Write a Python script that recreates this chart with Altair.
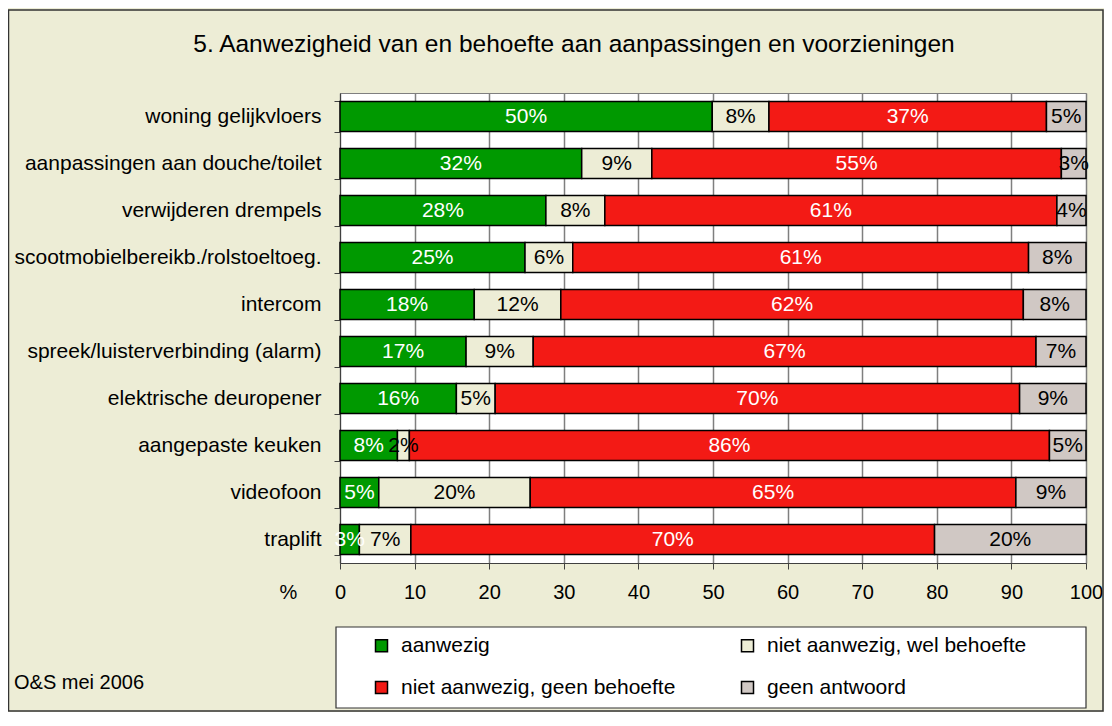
import altair as alt
import pandas as pd

# ---------------- data ----------------
items = [
    "woning gelijkvloers",
    "aanpassingen aan douche/toilet",
    "verwijderen drempels",
    "scootmobielbereikb./rolstoeltoeg.",
    "intercom",
    "spreek/luisterverbinding (alarm)",
    "elektrische deuropener",
    "aangepaste keuken",
    "videofoon",
    "traplift",
]
categories = [
    "aanwezig",
    "niet aanwezig, wel behoefte",
    "niet aanwezig, geen behoefte",
    "geen antwoord",
]
aanwezig = [49.9, 32.4, 27.6, 24.8, 18.0, 16.9, 15.6, 7.7, 5.2, 2.6]
wel_behoefte = [7.6, 9.4, 7.9, 6.4, 11.6, 9.0, 5.2, 1.6, 20.3, 6.9]
geen_behoefte = [37.2, 54.9, 60.6, 61.1, 62.0, 67.4, 70.3, 85.8, 65.1, 70.2]
geen_antwoord = [5.3, 3.3, 3.9, 7.7, 8.4, 6.7, 8.9, 4.9, 9.4, 20.3]
x_ticks = [0, 10, 20, 30, 40, 50, 60, 70, 80, 90, 100]
title_text = "5. Aanwezigheid van en behoefte aan aanpassingen en voorzieningen"
source_note = "O&S mei 2006"

colors = ["#009900", "#EDEDD6", "#F31A15", "#D0C8C4"]
FONT = "Liberation Sans"
BG = "#EDEDD6"

series = [aanwezig, wel_behoefte, geen_behoefte, geen_antwoord]
rows = []
for ci, (cat, vals) in enumerate(zip(categories, series)):
    for item, v in zip(items, vals):
        rows.append({"item": item, "category": cat, "order": ci, "value": v})
df = pd.DataFrame(rows)

base = (
    alt.Chart(df)
    .transform_stack(
        stack="value",
        groupby=["item"],
        sort=[alt.SortField("order", order="ascending")],
        as_=["x0", "x1"],
    )
    .transform_calculate(
        mid="(datum.x0 + datum.x1) / 2",
        label="round(datum.value) + '%'",
    )
)

y_enc = alt.Y(
    "item:N",
    sort=items,
    scale=alt.Scale(paddingInner=0.36, paddingOuter=0.18),
    axis=alt.Axis(
        title=None,
        labelFont=FONT,
        labelFontSize=21,
        labelColor="black",
        labelPadding=13,
        labelLimit=400,
        tickBand="extent",
        tickSize=6,
        tickColor="#404040",
        domainColor="#404040",
        grid=False,
    ),
)

bars = base.mark_bar(stroke="black", strokeWidth=1.5, opacity=1).encode(
    y=y_enc,
    x=alt.X(
        "x0:Q",
        scale=alt.Scale(domain=[0, 100], nice=False, zero=True),
        axis=alt.Axis(
            values=x_ticks,
            title="%",
            titleX=-52,
            titleY=29,
            titleAlign="center",
            titleBaseline="middle",
            titleFont=FONT,
            titleFontSize=20,
            titleFontWeight="normal",
            titleColor="black",
            labelFont=FONT,
            labelFontSize=20,
            labelColor="black",
            labelPadding=13,
            labelFlush=False,
            tickSize=6,
            tickColor="#404040",
            domainColor="#404040",
            grid=True,
            gridColor="#7F7F7F",
            gridWidth=1.5,
        ),
    ),
    x2="x1:Q",
    color=alt.Color(
        "category:N",
        sort=categories,
        scale=alt.Scale(domain=categories, range=colors),
        legend=alt.Legend(
            title=None,
            orient="none",
            legendX=31,
            legendY=542,
            direction="horizontal",
            columns=2,
            columnPadding=61,
            rowPadding=20,
            padding=0,
            symbolType="square",
            symbolSize=144,
            symbolStrokeColor="black",
            symbolStrokeWidth=1.5,
            symbolOpacity=1,
            labelFont=FONT,
            labelFontSize=21,
            labelColor="black",
            labelOffset=9,
            labelLimit=400,
        ),
    ),
)

texts = base.mark_text(font=FONT, fontSize=21, baseline="middle", align="center").encode(
    y=alt.Y("item:N", sort=items),
    x=alt.X("mid:Q"),
    text="label:N",
    color=alt.condition(
        "datum.category == 'aanwezig' || datum.category == 'niet aanwezig, geen behoefte'",
        alt.value("white"),
        alt.value("black"),
    ),
)

title = alt.Chart(pd.DataFrame({"t": [title_text]})).mark_text(
    font=FONT, fontSize=24.5, align="center", baseline="alphabetic", color="black"
).encode(x=alt.value(234), y=alt.value(-41), text="t:N")

note = alt.Chart(pd.DataFrame({"t": [source_note]})).mark_text(
    font=FONT, fontSize=20, align="left", baseline="middle", color="black"
).encode(x=alt.value(-326), y=alt.value(590), text="t:N")

# decorative frames: outer chart border and legend box
frame = alt.Chart(pd.DataFrame({"f": [0]})).mark_rect(
    fill=None, stroke="#333333", strokeWidth=1.5, clip=False
).encode(
    x=alt.value(-331.5), x2=alt.value(763), y=alt.value(-83), y2=alt.value(618)
)
legend_box = alt.Chart(pd.DataFrame({"f": [0]})).mark_rect(
    fill="white", stroke="#333333", strokeWidth=1.2, clip=False
).encode(
    x=alt.value(-4), x2=alt.value(746), y=alt.value(534), y2=alt.value(615)
)

chart = (
    alt.layer(frame, legend_box, bars, texts, title, note)
    .properties(
        width=746,
        height=470,
        padding={"left": 332, "top": 85, "right": 18, "bottom": 149},
        autosize=alt.AutoSizeParams(type="none"),
        background=BG,
    )
    .configure_view(stroke="#7F7F7F", fill="white")
)

chart.save("out.html", embed_options={"renderer": "svg", "actions": False})
